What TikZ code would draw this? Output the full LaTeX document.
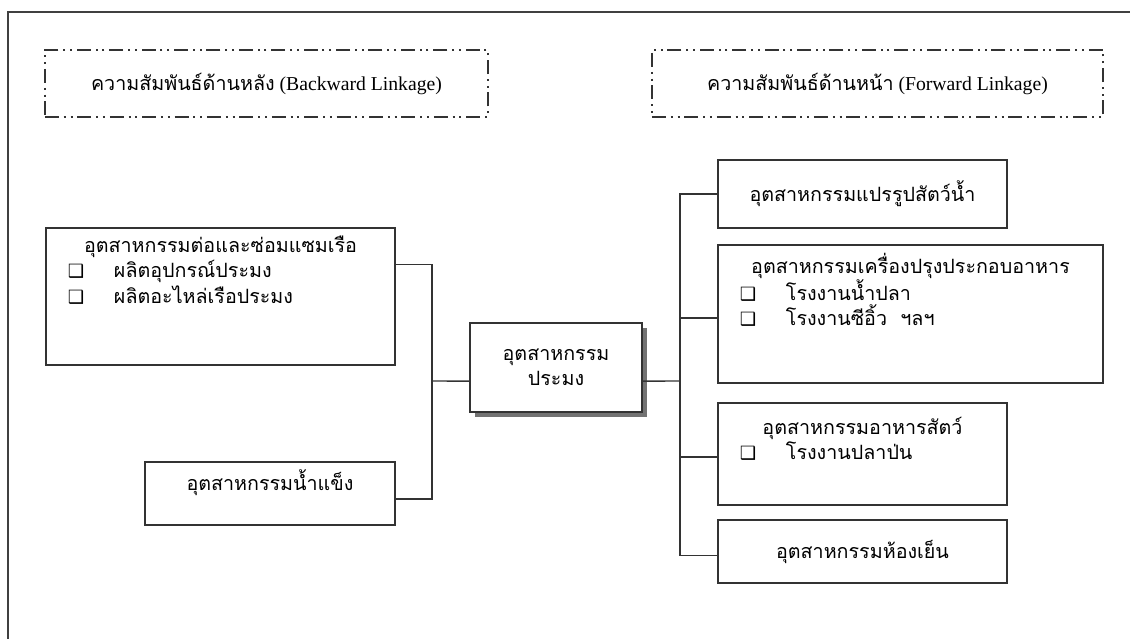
\documentclass[tikz,border=0pt]{standalone}
\usepackage{fontspec}
\setmainfont{Liberation Serif}
\newfontfamily\thai[Script=Thai]{Loma}
\newfontfamily\puce{DejaVu Sans}
\usetikzlibrary{shadows}

\newcommand{\titre}[1]{{\centering #1\par}}
\newcommand{\ligne}[1]{\noindent\hspace*{0.55cm}\makebox[1.15cm][l]{\puce\fontsize{13}{13}\selectfont ❑}#1\par}

\begin{document}
\begin{tikzpicture}[x=0.025cm,y=-0.025cm]
\tikzstyle{lien}=[line width=1pt,draw=black!80]
\tikzset{boite/.style={draw=black!80,line width=1.1pt,inner sep=0pt,fill=white,
  font=\thai\fontsize{14}{18}\selectfont},
entete/.style={draw=black!80,line width=1.1pt,
  dash pattern=on 0.35cm off 0.12cm on 0.05cm off 0.12cm on 0.05cm off 0.12cm,
  minimum height=1.675cm,font=\fontsize{14}{18}\selectfont}}
\useasboundingbox (0,0) rectangle (1130,638);
\clip (0,0) rectangle (1130,638);
\fill[white] (0,0) rectangle (1130,638);
\draw[line width=2pt,black!75] (8,700) |- (1200,12);

\node[entete,minimum width=11.075cm] (BL) at (266.5,83.5){{\thai ความสัมพันธ์ด้านหลัง} (Backward Linkage)};
\node[entete,minimum width=11.275cm] (FL) at (877.5,83.5){{\thai ความสัมพันธ์ด้านหน้า} (Forward Linkage)};

\node[boite] (A) at (220.5,296.5){\parbox[c][3.425cm][t]{8.725cm}{\vspace*{0.2cm}%
\titre{อุตสาหกรรมต่อและซ่อมแซมเรือ}\ligne{ผลิตอุปกรณ์ประมง}\ligne{ผลิตอะไหล่เรือประมง}}};
\node[boite] (G) at (270,493.5){\parbox[c][1.575cm][t]{6.25cm}{\vspace*{0.2cm}%
\titre{อุตสาหกรรมน้ำแข็ง}}};
\node[boite,minimum width=4.3cm,minimum height=2.225cm,align=center,
  drop shadow={shadow xshift=0.13cm,shadow yshift=-0.13cm,fill=black!55,opacity=1}]
  (C) at (556,367.5){อุตสาหกรรม\\ประมง};

\node[boite,minimum width=7.225cm,minimum height=1.7cm] (R1) at (862.5,194){อุตสาหกรรมแปรรูปสัตว์น้ำ};
\node[boite] (R2) at (910.5,314){\parbox[c][3.45cm][t]{9.625cm}{\vspace*{0.2cm}%
\titre{อุตสาหกรรมเครื่องปรุงประกอบอาหาร}\ligne{โรงงานน้ำปลา}\ligne{โรงงานซีอิ้ว\ \ ฯลฯ}}};
\node[boite] (R3) at (862.5,454){\parbox[c][2.55cm][t]{7.225cm}{\vspace*{0.35cm}%
\titre{อุตสาหกรรมอาหารสัตว์}\ligne{โรงงานปลาป่น}}};
\node[boite,minimum width=7.225cm,minimum height=1.575cm] (R4) at (862.5,551.5){อุตสาหกรรมห้องเย็น};

\coordinate (bg) at (432,381);
\coordinate (bd) at (680,381);
\draw[lien] ([yshift=-0.925cm]A.north east) -| (bg);
\draw[lien] (bg) |- ([yshift=-0.14cm]G.east);
\draw[lien] (bg) -- ([yshift=-0.34cm]C.west);
\draw[lien] ([yshift=-0.34cm]C.east) -- (bd);
\draw[lien] (bd) |- (R1.west);
\draw[lien] (bd) |- ([yshift=-0.1cm]R2.west);
\draw[lien] (bd) |- ([yshift=-0.075cm]R3.west);
\draw[lien] (bd) |- ([yshift=-0.1cm]R4.west);
\end{tikzpicture}
\end{document}
